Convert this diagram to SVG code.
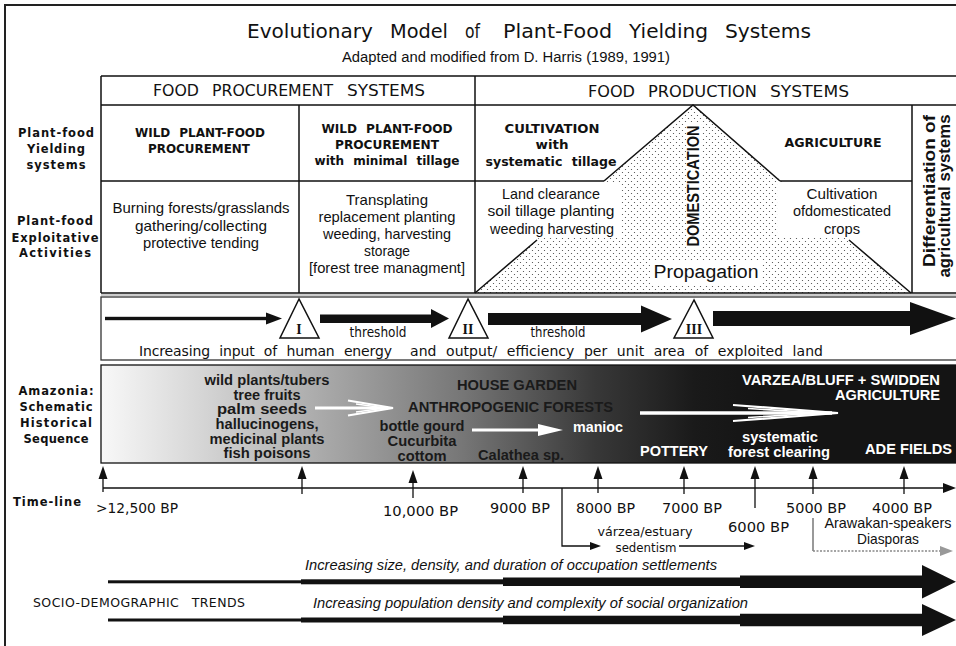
<svg xmlns="http://www.w3.org/2000/svg" width="956" height="646" viewBox="0 0 956 646">
<defs>
<style>
.ln{stroke:#111;stroke-width:1.5;fill:none}
.thin{stroke:#111;stroke-width:1.3;fill:none}
.blk{fill:#111}
.ttl{font-family:"DejaVu Sans",sans-serif;font-size:20px;fill:#111}
.sub{font-family:"Liberation Sans",Arial,sans-serif;font-size:14px;fill:#111}
.hdr{font-family:"DejaVu Sans",sans-serif;font-size:16.5px;fill:#111}
.lb{font-family:"DejaVu Sans",sans-serif;font-weight:bold;font-size:11.5px;fill:#111;text-anchor:middle}
.h2{font-family:"DejaVu Sans",sans-serif;font-weight:bold;font-size:12.5px;fill:#111;text-anchor:middle;word-spacing:5px}
.tx{font-family:"Liberation Sans",Arial,sans-serif;font-size:15px;fill:#111;text-anchor:middle}
.ab{font-family:"DejaVu Sans",sans-serif;font-size:14px;fill:#111;word-spacing:5px}
.rom{font-family:"Liberation Serif","Times New Roman",serif;font-weight:bold;font-size:14px;fill:#111;text-anchor:middle}
.am{font-family:"Liberation Sans",Arial,sans-serif;font-weight:bold;font-size:14px;fill:#1a1a1a}
.amw{font-family:"Liberation Sans",Arial,sans-serif;font-weight:bold;font-size:14.5px;fill:#fff}
.tm{font-family:"DejaVu Sans",sans-serif;font-size:14px;fill:#111}
.sm{font-family:"DejaVu Sans",sans-serif;font-size:12.5px;fill:#111;text-anchor:middle}
.it{font-family:"Liberation Sans",Arial,sans-serif;font-style:italic;font-size:14.5px;fill:#111}
.wa{stroke:#fff;fill:none}
</style>
<pattern id="dots" x="0" y="0" width="6" height="6" patternUnits="userSpaceOnUse">
<rect width="6" height="6" fill="#fff"/>
<circle cx="1.5" cy="1.5" r="0.6" fill="#444"/>
<circle cx="4.5" cy="4.5" r="0.6" fill="#444"/>
</pattern>
<linearGradient id="amz" gradientUnits="userSpaceOnUse" x1="101" y1="0" x2="760" y2="0">
<stop offset="0" stop-color="#f8f8f8"/>
<stop offset="0.15" stop-color="#d6d6d6"/>
<stop offset="0.35" stop-color="#a6a6a6"/>
<stop offset="0.55" stop-color="#767676"/>
<stop offset="0.75" stop-color="#383838"/>
<stop offset="0.9" stop-color="#1a1a1a"/>
<stop offset="1" stop-color="#141414"/>
</linearGradient>
</defs>
<rect width="956" height="646" fill="#fff"/>

<g id="frame">
<path d="M5,646 L5,5 L956,5" stroke="#222" stroke-width="2" fill="none"/>
</g>

<g id="title">
<text class="ttl" y="38"><tspan x="247" textLength="126" lengthAdjust="spacingAndGlyphs">Evolutionary</tspan> <tspan x="390" textLength="58" lengthAdjust="spacingAndGlyphs">Model</tspan> <tspan x="465" textLength="15" lengthAdjust="spacingAndGlyphs">of</tspan> <tspan x="503" textLength="109" lengthAdjust="spacingAndGlyphs">Plant-Food</tspan> <tspan x="629" textLength="79" lengthAdjust="spacingAndGlyphs">Yielding</tspan> <tspan x="725" textLength="86" lengthAdjust="spacingAndGlyphs">Systems</tspan></text>
<text class="sub" x="342" y="62" textLength="328" lengthAdjust="spacingAndGlyphs">Adapted and modified from D. Harris (1989, 1991)</text>
</g>

<g id="domestication">
<polygon points="693,105 475,293 911,293" fill="url(#dots)"/>
<rect x="476" y="182" width="145" height="56" fill="#fff"/>
<rect x="778" y="182" width="133" height="56" fill="#fff"/>
<rect x="686" y="124" width="15" height="125" fill="#fff"/>
<rect x="650" y="262" width="112" height="22" fill="#fff"/>
<path class="ln" d="M604,181 L693,105 L780,181 M537,240 L475,293 M849,240 L911,293"/>
<text transform="translate(699,186) rotate(-90)" font-family="Liberation Sans, Arial, sans-serif" font-weight="bold" font-size="16" fill="#111" text-anchor="middle" textLength="121" lengthAdjust="spacingAndGlyphs">DOMESTICATION</text>
<text x="706" y="278" font-family="Liberation Sans, Arial, sans-serif" font-size="18" fill="#111" text-anchor="middle" textLength="105" lengthAdjust="spacingAndGlyphs">Propagation</text>
</g>

<g id="table">
<path class="ln" d="M101,76 L956,76 M101,105 L956,105 M101,293 L956,293 M101,181 L604,181 M780,181 L912,181 M101,76 L101,293 M299,105 L299,293 M475,76 L475,293 M912,105 L912,293"/>
<text class="hdr" y="96"><tspan x="153" textLength="46" lengthAdjust="spacingAndGlyphs">FOOD</tspan> <tspan x="212" textLength="121" lengthAdjust="spacingAndGlyphs">PROCUREMENT</tspan> <tspan x="347" textLength="78" lengthAdjust="spacingAndGlyphs">SYSTEMS</tspan></text>
<text class="hdr" y="97"><tspan x="588" textLength="47" lengthAdjust="spacingAndGlyphs">FOOD</tspan> <tspan x="648" textLength="109" lengthAdjust="spacingAndGlyphs">PRODUCTION</tspan> <tspan x="770" textLength="79" lengthAdjust="spacingAndGlyphs">SYSTEMS</tspan></text>
</g>

<g id="row-labels">
<text class="lb" x="56" y="137" textLength="76">Plant-food</text>
<text class="lb" x="56" y="153" textLength="58">Yielding</text>
<text class="lb" x="56" y="169" textLength="59">systems</text>
<text class="lb" x="55" y="225" textLength="76">Plant-food</text>
<text class="lb" x="55" y="242" textLength="87">Exploitative</text>
<text class="lb" x="55" y="257" textLength="72">Activities</text>
<text class="lb" x="56" y="395" textLength="75">Amazonia:</text>
<text class="lb" x="56" y="411" textLength="73">Schematic</text>
<text class="lb" x="56" y="427" textLength="72">Historical</text>
<text class="lb" x="56" y="443" textLength="65">Sequence</text>
<text class="lb" x="13" y="506" style="text-anchor:start" textLength="68">Time-line</text>
<text x="33" y="607" font-family="DejaVu Sans, sans-serif" font-size="12.5" fill="#111" word-spacing="8" textLength="212" lengthAdjust="spacing">SOCIO-DEMOGRAPHIC TRENDS</text>
</g>

<g id="cell-wild">
<text class="h2" x="200" y="137" textLength="130" lengthAdjust="spacingAndGlyphs">WILD PLANT-FOOD</text>
<text class="h2" x="199" y="153" textLength="102" lengthAdjust="spacingAndGlyphs">PROCUREMENT</text>
<text class="tx" x="201" y="213" textLength="177" lengthAdjust="spacingAndGlyphs">Burning forests/grasslands</text>
<text class="tx" x="201" y="231" textLength="132" lengthAdjust="spacingAndGlyphs">gathering/collecting</text>
<text class="tx" x="201" y="248" textLength="116" lengthAdjust="spacingAndGlyphs">protective tending</text>
</g>

<g id="cell-wild-tillage">
<text class="h2" x="387" y="133" textLength="131" lengthAdjust="spacingAndGlyphs">WILD PLANT-FOOD</text>
<text class="h2" x="387" y="149" textLength="104" lengthAdjust="spacingAndGlyphs">PROCUREMENT</text>
<text class="h2" x="387" y="165" textLength="145" lengthAdjust="spacingAndGlyphs">with minimal tillage</text>
<text class="tx" x="387" y="205" textLength="82" lengthAdjust="spacingAndGlyphs">Transplating</text>
<text class="tx" x="387" y="222" textLength="137" lengthAdjust="spacingAndGlyphs">replacement planting</text>
<text class="tx" x="387" y="239" textLength="128" lengthAdjust="spacingAndGlyphs">weeding, harvesting</text>
<text class="tx" x="387" y="256" textLength="46" lengthAdjust="spacingAndGlyphs">storage</text>
<text class="tx" x="387" y="273" textLength="156" lengthAdjust="spacingAndGlyphs">[forest tree managment]</text>
</g>

<g id="cell-cultivation">
<text class="h2" x="552" y="133" textLength="95" lengthAdjust="spacingAndGlyphs">CULTIVATION</text>
<text class="h2" x="552" y="149" textLength="33" lengthAdjust="spacingAndGlyphs">with</text>
<text class="h2" x="551" y="166" textLength="131" lengthAdjust="spacingAndGlyphs">systematic tillage</text>
<text class="tx" x="551" y="199" textLength="98" lengthAdjust="spacingAndGlyphs">Land clearance</text>
<text class="tx" x="551" y="216" textLength="127" lengthAdjust="spacingAndGlyphs">soil tillage planting</text>
<text class="tx" x="552" y="234" textLength="124" lengthAdjust="spacingAndGlyphs">weeding harvesting</text>
</g>

<g id="cell-agriculture">
<text class="h2" x="833" y="147" textLength="97" lengthAdjust="spacingAndGlyphs">AGRICULTURE</text>
<text class="tx" x="842" y="199" textLength="71" lengthAdjust="spacingAndGlyphs">Cultivation</text>
<text class="tx" x="842" y="216" textLength="98" lengthAdjust="spacingAndGlyphs">ofdomesticated</text>
<text class="tx" x="842" y="234" textLength="36" lengthAdjust="spacingAndGlyphs">crops</text>
</g>

<g id="cell-differentiation">
<text transform="translate(935,191) rotate(-90)" font-family="Liberation Sans, Arial, sans-serif" font-weight="bold" font-size="16.5" fill="#111" text-anchor="middle" textLength="152" lengthAdjust="spacingAndGlyphs">Differentiation of</text>
<text transform="translate(950,196) rotate(-90)" font-family="Liberation Sans, Arial, sans-serif" font-weight="bold" font-size="16.5" fill="#111" text-anchor="middle" textLength="163" lengthAdjust="spacingAndGlyphs">agricultural systems</text>
</g>

<g id="energy-band">
<rect x="101" y="297" width="856" height="63" fill="#fff" stroke="#333" stroke-width="1.3"/>
<line x1="101" y1="295" x2="956" y2="295" stroke="#999" stroke-width="1"/>
<text class="ab" x="378" y="337" text-anchor="middle" textLength="57" lengthAdjust="spacingAndGlyphs">threshold</text>
<text class="ab" x="558" y="337" text-anchor="middle" textLength="55" lengthAdjust="spacingAndGlyphs">threshold</text>
<text class="ab" x="139" y="356" textLength="253" lengthAdjust="spacing">Increasing input of human energy</text>
<text class="ab" x="410" y="356" textLength="413" lengthAdjust="spacing">and output/ efficiency per unit area of exploited land</text>
</g>

<g id="threshold-I">
<polygon points="299,299 280,338 319,338" fill="#fff" stroke="#111" stroke-width="1.5"/>
<text class="rom" x="299" y="334">I</text>
</g>
<g id="threshold-II">
<polygon points="468,299 449,338 488,338" fill="#fff" stroke="#111" stroke-width="1.5"/>
<text class="rom" x="468" y="334">II</text>
</g>
<g id="threshold-III">
<polygon points="694,300 674,338 713,338" fill="#fff" stroke="#111" stroke-width="1.5"/>
<text class="rom" x="694" y="334">III</text>
</g>

<g id="amazonia-band">
<rect x="101" y="365" width="856" height="98" fill="url(#amz)" stroke="#111" stroke-width="1.3"/>
<text class="am" x="267" y="385" text-anchor="middle" textLength="125" lengthAdjust="spacingAndGlyphs">wild plants/tubers</text>
<text class="am" x="267" y="399.5" text-anchor="middle" textLength="67" lengthAdjust="spacingAndGlyphs">tree fruits</text>
<text class="am" x="262" y="414" text-anchor="middle" textLength="90" lengthAdjust="spacingAndGlyphs">palm seeds</text>
<text class="am" x="267" y="429" text-anchor="middle" textLength="103" lengthAdjust="spacingAndGlyphs">hallucinogens,</text>
<text class="am" x="267" y="443.5" text-anchor="middle" textLength="115" lengthAdjust="spacingAndGlyphs">medicinal plants</text>
<text class="am" x="267" y="458" text-anchor="middle" textLength="87" lengthAdjust="spacingAndGlyphs">fish poisons</text>
<text class="am" x="457" y="390" textLength="120" lengthAdjust="spacingAndGlyphs" fill="#2a2a2a">HOUSE GARDEN</text>
<text class="am" x="408" y="412" textLength="205" lengthAdjust="spacingAndGlyphs">ANTHROPOGENIC FORESTS</text>
<text class="am" x="422" y="431" text-anchor="middle" textLength="85" lengthAdjust="spacingAndGlyphs">bottle gourd</text>
<text class="am" x="422" y="446" text-anchor="middle" textLength="69" lengthAdjust="spacingAndGlyphs">Cucurbita</text>
<text class="am" x="422" y="461" text-anchor="middle" textLength="49" lengthAdjust="spacingAndGlyphs">cottom</text>
<text class="am" x="478" y="460" textLength="86" lengthAdjust="spacingAndGlyphs">Calathea sp.</text>
<text class="amw" x="573" y="432" textLength="50" lengthAdjust="spacingAndGlyphs">manioc</text>
<text class="amw" x="940" y="385" text-anchor="end" textLength="198" lengthAdjust="spacingAndGlyphs">VARZEA/BLUFF + SWIDDEN</text>
<text class="amw" x="940" y="400" text-anchor="end" textLength="105" lengthAdjust="spacingAndGlyphs">AGRICULTURE</text>
<text class="amw" x="640" y="456" textLength="68" lengthAdjust="spacingAndGlyphs">POTTERY</text>
<text class="amw" x="780" y="442" text-anchor="middle" textLength="76" lengthAdjust="spacingAndGlyphs">systematic</text>
<text class="amw" x="779" y="457" text-anchor="middle" textLength="102" lengthAdjust="spacingAndGlyphs">forest clearing</text>
<text class="amw" x="865" y="454" textLength="87" lengthAdjust="spacingAndGlyphs">ADE FIELDS</text>
</g>

<g id="timeline-labels">
<text class="tm" x="96" y="513" textLength="82" lengthAdjust="spacingAndGlyphs">&gt;12,500 BP</text>
<text class="tm" x="383" y="516" textLength="75" lengthAdjust="spacingAndGlyphs">10,000 BP</text>
<text class="tm" x="490" y="513" textLength="60" lengthAdjust="spacingAndGlyphs">9000 BP</text>
<text class="tm" x="576" y="513" textLength="59" lengthAdjust="spacingAndGlyphs">8000 BP</text>
<text class="tm" x="662" y="513" textLength="60" lengthAdjust="spacingAndGlyphs">7000 BP</text>
<text class="tm" x="728" y="532" textLength="61" lengthAdjust="spacingAndGlyphs">6000 BP</text>
<text class="tm" x="786" y="513" textLength="60" lengthAdjust="spacingAndGlyphs">5000 BP</text>
<text class="tm" x="872" y="513" textLength="60" lengthAdjust="spacingAndGlyphs">4000 BP</text>
</g>

<g id="sedentism">
<text class="sm" x="645" y="536" textLength="95" lengthAdjust="spacingAndGlyphs">várzea/estuary</text>
<text class="sm" x="646" y="552" textLength="61" lengthAdjust="spacingAndGlyphs">sedentism</text>
</g>

<g id="arawakan">
<text x="888" y="528" font-family="Liberation Sans, Arial, sans-serif" font-size="14.5" fill="#111" text-anchor="middle" textLength="127" lengthAdjust="spacingAndGlyphs">Arawakan-speakers</text>
<text x="888" y="544" font-family="Liberation Sans, Arial, sans-serif" font-size="14.5" fill="#111" text-anchor="middle" textLength="62" lengthAdjust="spacingAndGlyphs">Diasporas</text>
</g>

<g id="trends">
<text class="it" x="305" y="570" textLength="412" lengthAdjust="spacingAndGlyphs">Increasing size, density, and duration of occupation settlements</text>
<text class="it" x="313" y="608" textLength="435" lengthAdjust="spacingAndGlyphs">Increasing population density and complexity of social organization</text>
</g>

<g id="connectors">
<rect class="blk" x="105" y="316.8" width="163" height="3.4"/>
<polygon class="blk" points="266,312.5 282,318.5 266,324.5"/>
<rect class="blk" x="320" y="314.5" width="113" height="8.5"/>
<polygon class="blk" points="431,309 449,318.5 431,328"/>
<rect class="blk" x="488" y="313" width="155" height="12"/>
<polygon class="blk" points="641,305.5 672,319 641,332.5"/>
<rect class="blk" x="713" y="311" width="199" height="15"/>
<polygon class="blk" points="910,302 956,318.5 910,335"/>
<line class="wa" x1="315" y1="408" x2="388" y2="408" stroke-width="3"/>
<path class="wa" d="M348,400.5 L393,408 L348,415.5" stroke-width="2.2"/>
<path class="wa" d="M356,404 L385,408 L356,412" stroke-width="1.6"/>
<line class="wa" x1="472" y1="430" x2="542" y2="430" stroke-width="3"/>
<polygon points="538,424 563,430 538,436" fill="#fff"/>
<line class="wa" x1="640" y1="413" x2="832" y2="413" stroke-width="3.5"/>
<path class="wa" d="M733,405 L838,413 L733,421" stroke-width="2.2"/>
<path class="wa" d="M748,408.5 L822,413 L748,417.5" stroke-width="1.6"/>
<line class="ln" x1="103" y1="488" x2="946" y2="488"/>
<polygon class="blk" points="943,483 956,488 943,493"/>
<path class="thin" d="M103,492 V476 M302,494 V476 M413,498 V480 M523,493 V476 M598,493 V476 M684,494 V476 M755,508 V476 M813,494 V476 M904,494 V476"/>
<polygon class="blk" points="98.5,479 103,466 107.5,479"/>
<polygon class="blk" points="297.5,479 302,466 306.5,479"/>
<polygon class="blk" points="408.5,483 413,470 417.5,483"/>
<polygon class="blk" points="518.5,479 523,466 527.5,479"/>
<polygon class="blk" points="593.5,479 598,466 602.5,479"/>
<polygon class="blk" points="679.5,479 684,466 688.5,479"/>
<polygon class="blk" points="750.5,479 755,466 759.5,479"/>
<polygon class="blk" points="808.5,479 813,466 817.5,479"/>
<polygon class="blk" points="899.5,479 904,466 908.5,479"/>
<path class="thin" d="M562,488 V546 H592 M679,546 H746"/>
<polygon class="blk" points="590,542 601,546 590,550"/>
<polygon class="blk" points="744,542 755,546 744,550"/>
<path d="M813,518 V551" stroke="#777" stroke-width="1.5" fill="none"/>
<path d="M813,551 H942" stroke="#888" stroke-width="1.5" stroke-dasharray="2,1.5" fill="none"/>
<polygon points="940,546 953,551 940,556" fill="#999"/>
<rect class="blk" x="108" y="580.3" width="194" height="3"/>
<rect class="blk" x="301" y="579.3" width="203" height="5"/>
<rect class="blk" x="503" y="577.5" width="238" height="8.5"/>
<polygon class="blk" points="740,575.5 922,575.5 922,565 956,581.8 922,598.5 922,588 740,588"/>
<rect class="blk" x="108" y="618.5" width="194" height="3"/>
<rect class="blk" x="301" y="617.5" width="203" height="5"/>
<rect class="blk" x="503" y="615.7" width="238" height="8.5"/>
<polygon class="blk" points="740,613.7 922,613.7 922,604 956,620 922,636 922,626.3 740,626.3"/>
</g>
</svg>
